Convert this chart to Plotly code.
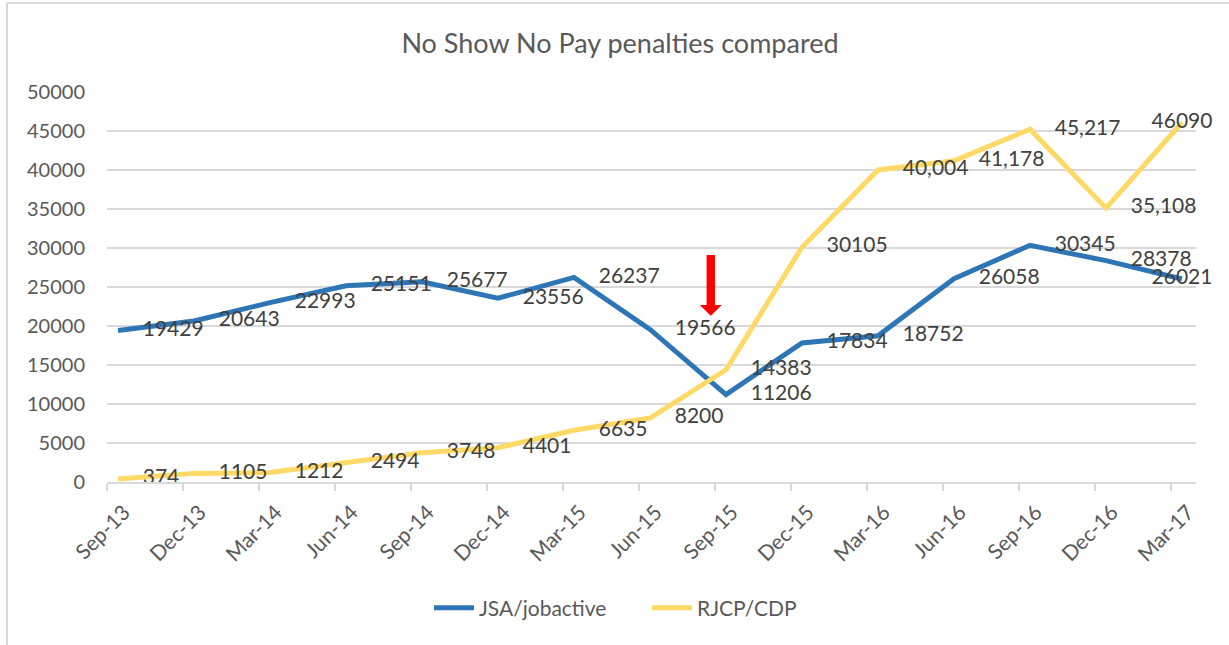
import plotly.graph_objects as go

categories = ["Sep-13", "Dec-13", "Mar-14", "Jun-14", "Sep-14", "Dec-14", "Mar-15",
              "Jun-15", "Sep-15", "Dec-15", "Mar-16", "Jun-16", "Sep-16", "Dec-16", "Mar-17"]
jsa_values = [19429, 20643, 22993, 25151, 25677, 23556, 26237, 19566, 11206,
              17834, 18752, 26058, 30345, 28378, 26021]
rjcp_values = [374, 1105, 1212, 2494, 3748, 4401, 6635, 8200, 14383,
               30105, 40004, 41178, 45217, 35108, 46090]
# which data labels were shown with a thousands separator in the original
rjcp_comma = [False] * 10 + [True, True, True, True, False]
jsa_comma = [False] * 15

y_ticks = list(range(0, 50001, 5000))

x_idx = list(range(len(categories)))

def labels(vals, commas):
    return [f"{v:,}" if c else str(v) for v, c in zip(vals, commas)]

FONT = "Lato"
W, H = 1229, 645
L, R, T, B = 107, 33, 92, 163
pw, ph = W - L - R, H - T - B

positions = ["middle right"] * (len(categories) - 1) + ["middle center"]

fig = go.Figure()
fig.add_trace(go.Scatter(
    x=x_idx, y=jsa_values, name="JSA/jobactive",
    mode="lines+markers+text",
    line=dict(color="#2E75B6", width=5),
    marker=dict(size=38, color="rgba(0,0,0,0)"),
    text=labels(jsa_values, jsa_comma), textposition=positions,
    textfont=dict(family=FONT, size=21, color="#404040"),
    hoverinfo="skip", cliponaxis=False,
))
fig.add_trace(go.Scatter(
    x=x_idx, y=rjcp_values, name="RJCP/CDP",
    mode="lines+markers+text",
    line=dict(color="#FFD966", width=5),
    marker=dict(size=38, color="rgba(0,0,0,0)"),
    text=labels(rjcp_values, rjcp_comma), textposition=positions,
    textfont=dict(family=FONT, size=21, color="#404040"),
    hoverinfo="skip", cliponaxis=False,
))

# red arrow pointing at Sep-15
ax = categories.index("Sep-15") - 0.2
sw, hw = 0.055, 0.145
arrow_path = (f"M {ax-sw},29100 L {ax+sw},29100 L {ax+sw},22700 L {ax+hw},22700 "
              f"L {ax},21300 L {ax-hw},22700 L {ax-sw},22700 Z")

tick_off = 11 / 76.0
fig.update_layout(
    width=W, height=H,
    margin=dict(l=L, r=R, t=T, b=B, autoexpand=False),
    paper_bgcolor="white", plot_bgcolor="white",
    font=dict(family=FONT, size=20, color="#595959"),
    title=dict(text="No Show No Pay penalties compared",
               font=dict(family=FONT, size=27, color="#595959"),
               x=620 / W, xref="container", xanchor="center",
               y=1 - 44 / H, yref="container", yanchor="middle"),
    showlegend=True,
    legend=dict(orientation="h", x=(647 - L) / pw, xanchor="center",
                y=(482 - 608) / ph, yanchor="middle",
                font=dict(family=FONT, size=21, color="#595959"),
                itemwidth=40, entrywidth=163),
    xaxis=dict(
        range=[-tick_off, 14 + 14 / 76.0],
        tickmode="array", tickvals=x_idx, ticktext=categories,
        tickangle=-45, showgrid=False, zeroline=False,
        showline=True, linecolor="#D9D9D9", linewidth=1.5,
        ticks="", tickfont=dict(family=FONT, size=21, color="#595959"),
        ticklabelstandoff=8, ticklabelshift=6,
        minor=dict(ticks="outside", ticklen=7, tickwidth=1.5, tickcolor="#D9D9D9",
                   tickmode="array", tickvals=[i - tick_off for i in x_idx],
                   showgrid=False),
        automargin=False, fixedrange=True,
    ),
    yaxis=dict(
        range=[0, 50000], tickmode="array", tickvals=y_ticks,
        ticktext=[str(v) for v in y_ticks],
        showgrid=True, gridcolor="#D9D9D9", gridwidth=1.5,
        zeroline=False, showline=False, ticks="",
        ticklabelstandoff=21,
        tickfont=dict(family=FONT, size=20, color="#595959"),
        automargin=False, fixedrange=True,
    ),
    shapes=[
        dict(type="path", path=arrow_path, xref="x", yref="y",
             fillcolor="#FF0000", line=dict(width=0)),
        dict(type="line", xref="paper", yref="paper",
             x0=(7 - L) / pw, x1=(W - L) / pw, y0=(H - 3 - B) / ph, y1=(H - 3 - B) / ph,
             line=dict(color="#D9D9D9", width=2)),
        dict(type="line", xref="paper", yref="paper",
             x0=(7 - L) / pw, x1=(7 - L) / pw, y0=(H - 3 - B) / ph, y1=-B / ph,
             line=dict(color="#D9D9D9", width=2)),
    ],
)

fig.write_html("out.html", config={"displayModeBar": False},
               post_script="document.body.style.margin='0';document.body.style.overflow='hidden';")
